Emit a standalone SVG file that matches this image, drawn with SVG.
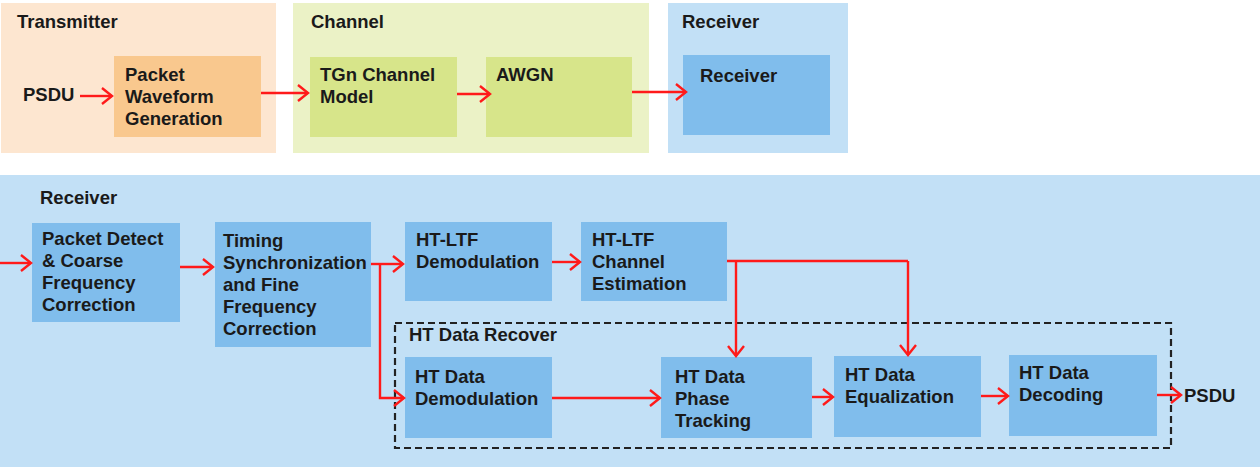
<svg xmlns="http://www.w3.org/2000/svg" width="1260" height="467" viewBox="0 0 1260 467">
<defs>
<marker id="ah" markerUnits="userSpaceOnUse" markerWidth="14" markerHeight="18" refX="11" refY="9" orient="auto">
<path d="M1,1 L11,9 L1,17" fill="none" stroke="#ff1a1a" stroke-width="2.4"/>
</marker>
<style>
text{font-family:"Liberation Sans",Arial,sans-serif;font-weight:bold;font-size:18.5px;fill:#1a1a1a}
.pt{fill:#fde6d0}.po{fill:#f9c88e}
.pg{fill:#ebf2c6}.bg{fill:#d7e58a}
.pb{fill:#c2e0f6}.bb{fill:#80bdec}
.c{fill:none;stroke:#ff1a1a;stroke-width:2.4}
.ca{fill:none;stroke:#ff1a1a;stroke-width:2.4;marker-end:url(#ah)}
</style>
</defs>
<rect width="1260" height="467" fill="#ffffff"/>

<g id="transmitter-panel">
<rect class="pt" x="1" y="3" width="275" height="150"/>
<text x="17" y="28">Transmitter</text>
<text x="23" y="101">PSDU</text>
</g>
<g id="channel-panel">
<rect class="pg" x="293" y="3" width="356" height="150"/>
<text x="311" y="28">Channel</text>
</g>
<g id="receiver-top-panel">
<rect class="pb" x="668" y="3" width="180" height="150"/>
<text x="682" y="28">Receiver</text>
</g>
<g id="receiver-panel">
<rect class="pb" x="0" y="175" width="1260" height="292"/>
<text x="40" y="204">Receiver</text>
</g>

<g id="packet-waveform">
<rect class="po" x="114" y="56" width="147" height="81"/>
<text x="125" y="81">Packet</text>
<text x="125" y="103">Waveform</text>
<text x="125" y="125">Generation</text>
</g>
<g id="tgn">
<rect class="bg" x="310" y="57" width="147" height="80"/>
<text x="320" y="81">TGn Channel</text>
<text x="320" y="103">Model</text>
</g>
<g id="awgn">
<rect class="bg" x="486" y="57" width="146" height="80"/>
<text x="496" y="81">AWGN</text>
</g>
<g id="receiver-box">
<rect class="bb" x="683" y="55" width="147" height="80"/>
<text x="700" y="82">Receiver</text>
</g>

<g id="packet-detect">
<rect class="bb" x="32" y="223" width="148" height="99"/>
<text x="42" y="245">Packet Detect</text>
<text x="42" y="267">&amp; Coarse</text>
<text x="42" y="289">Frequency</text>
<text x="42" y="311">Correction</text>
</g>
<g id="timing">
<rect class="bb" x="215" y="222" width="156" height="125"/>
<text x="223" y="247">Timing</text>
<text x="223" y="269">Synchronization</text>
<text x="223" y="291">and Fine</text>
<text x="223" y="313">Frequency</text>
<text x="223" y="335">Correction</text>
</g>
<g id="htltf-demod">
<rect class="bb" x="405" y="222" width="147" height="79"/>
<text x="416" y="246">HT-LTF</text>
<text x="416" y="268">Demodulation</text>
</g>
<g id="htltf-chest">
<rect class="bb" x="581" y="222" width="146" height="79"/>
<text x="592" y="246">HT-LTF</text>
<text x="592" y="268">Channel</text>
<text x="592" y="290">Estimation</text>
</g>

<g id="ht-data-recover">
<rect x="395" y="323" width="776" height="125" fill="none" stroke="#222222" stroke-width="2.2" stroke-dasharray="7,4"/>
<text x="409" y="341">HT Data Recover</text>
</g>
<g id="ht-demod">
<rect class="bb" x="405" y="357" width="147" height="81"/>
<text x="415" y="383">HT Data</text>
<text x="415" y="405">Demodulation</text>
</g>
<g id="ht-phase">
<rect class="bb" x="661" y="357" width="151" height="81"/>
<text x="675" y="383">HT Data</text>
<text x="675" y="405">Phase</text>
<text x="675" y="427">Tracking</text>
</g>
<g id="ht-eq">
<rect class="bb" x="834" y="356" width="147" height="81"/>
<text x="845" y="381">HT Data</text>
<text x="845" y="403">Equalization</text>
</g>
<g id="ht-dec">
<rect class="bb" x="1009" y="355" width="148" height="81"/>
<text x="1019" y="379">HT Data</text>
<text x="1019" y="401">Decoding</text>
</g>
<g id="psdu-out">
<text x="1184" y="402">PSDU</text>
</g>

<g id="connectors">
<path class="ca" d="M80,96 L112,96"/>
<path class="ca" d="M261,93 L308,93"/>
<path class="ca" d="M457,94 L490,94"/>
<path class="ca" d="M632,92 L686,92"/>
<path class="ca" d="M0,263 L31,263"/>
<path class="ca" d="M180,267 L213,267"/>
<path class="ca" d="M371,264 L403,264"/>
<path class="ca" d="M380,264 L380,398 L404,398"/>
<path class="ca" d="M552,262 L580,262"/>
<path class="c" d="M727,261 L908,261"/>
<path class="ca" d="M908,261 L908,355"/>
<path class="ca" d="M736,261 L736,356"/>
<path class="ca" d="M552,398 L660,398"/>
<path class="ca" d="M812,397 L833,397"/>
<path class="ca" d="M981,396 L1008,396"/>
<path class="ca" d="M1157,395 L1181,395"/>
</g>
</svg>
